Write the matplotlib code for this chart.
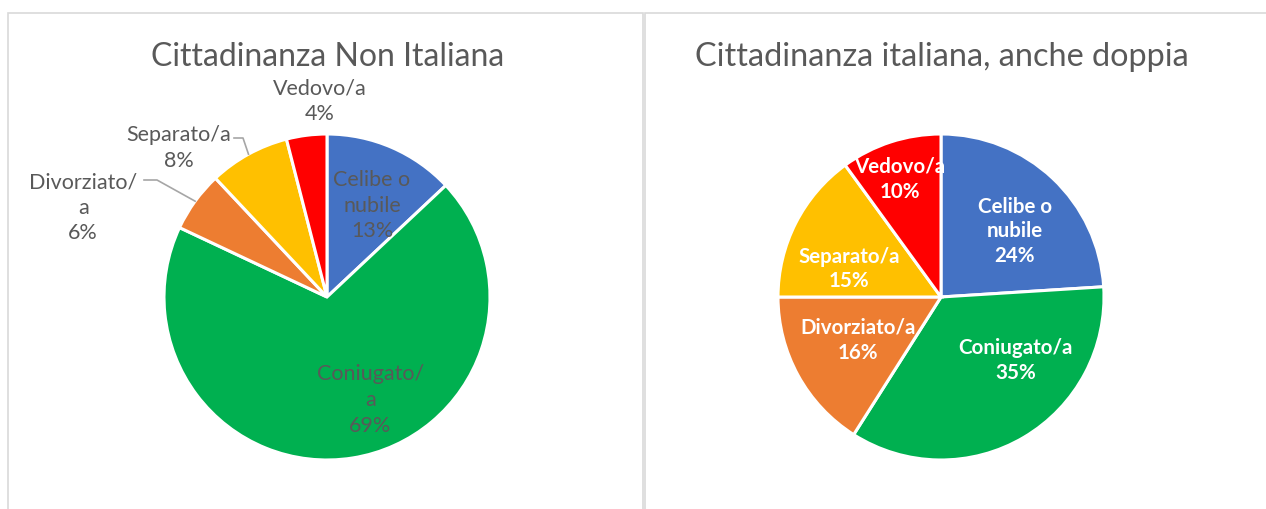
import numpy as np
import matplotlib
matplotlib.use("Agg")
import matplotlib.pyplot as plt
from matplotlib.patches import Rectangle

categories = ["Celibe o\nnubile", "Coniugato/a", "Divorziato/a", "Separato/a", "Vedovo/a"]
left_labels = ["Celibe o\nnubile", "Coniugato/\na", "Divorziato/\na", "Separato/a", "Vedovo/a"]
non_italiana = [13, 69, 6, 8, 4]
italiana = [24, 35, 16, 15, 10]
titles = ["Cittadinanza Non Italiana", "Cittadinanza italiana, anche doppia"]
colors = ["#4472C4", "#00B050", "#ED7D31", "#FFC000", "#FF0000"]

W, H = 1266, 510
plt.rcParams["font.family"] = ["Lato", "DejaVu Sans"]
fig = plt.figure(figsize=(W / 100, H / 100), dpi=100)
fig.patch.set_facecolor("white")

# chart frames (Excel style)
border = "#D9D9D9"
fig.add_artist(Rectangle((8 / W, -0.1), (643 - 8) / W, 1.1 - 14 / H, transform=fig.transFigure,
                         fill=False, edgecolor=border, lw=1.2))
fig.add_artist(Rectangle((645 / W, -0.1), 0.5, 1.1 - 14 / H, transform=fig.transFigure,
                         fill=False, edgecolor=border, lw=1.2))

radius_px = 163
half = 300


def pie_axes(cx, cy):
    return fig.add_axes([(cx - half) / W, 1 - (cy + half) / H, 2 * half / W, 2 * half / H])


def polar(ang, dist):
    a = np.deg2rad(ang)
    return dist * np.cos(a), dist * np.sin(a)


lim = half / radius_px
text_gray = "#595959"

# left pie
cx1, cy1 = 327, 298
ax1 = pie_axes(cx1, cy1)
wedges, _ = ax1.pie(non_italiana, colors=colors, startangle=90, counterclock=False,
                    wedgeprops=dict(edgecolor="white", linewidth=2.2))
ax1.set_xlim(-lim, lim)
ax1.set_ylim(-lim, lim)
ax1.set_aspect("equal")
ax1.axis("off")
# label placement (angle deg, distance in radii)
left_pos = [(64, 0.63), (-67, 0.68), (159.7, 1.595), (134.7, 1.295), (92, 1.21)]
for i, (lab, v) in enumerate(zip(left_labels, non_italiana)):
    x, y = polar(*left_pos[i])
    ax1.text(x, y, f"{lab}\n{v}%", ha="center", va="center", fontsize=15.5,
             color=text_gray, linespacing=1.35)
# leader lines for Divorziato and Separato: (elbow px, end px)
for i, (elbow, end) in [(2, ((157, 181), 144)), (3, ((243, 139), 234))]:
    w = wedges[i]
    mid = (w.theta1 + w.theta2) / 2
    px, py = polar(mid, 1.0)
    ex_d = (elbow[0] - cx1) / radius_px
    ey_d = (cy1 - elbow[1]) / radius_px
    end_d = (end - cx1) / radius_px
    ax1.plot([px, ex_d, end_d], [py, ey_d, ey_d], color="#A6A6A6", lw=1.2)
fig.text(328 / W, 1 - 57 / H, titles[0], ha="center", va="center", fontsize=23, color=text_gray)

# right pie
ax2 = pie_axes(941, 298)
ax2.pie(italiana, colors=colors, startangle=90, counterclock=False,
        wedgeprops=dict(edgecolor="white", linewidth=2.2))
ax2.set_xlim(-lim, lim)
ax2.set_ylim(-lim, lim)
ax2.set_aspect("equal")
ax2.axis("off")
right_pos = [(42, 0.61), (-40, 0.60), (207, 0.57), (162.5, 0.59), (109, 0.77)]
for i, (lab, v) in enumerate(zip(categories, italiana)):
    x, y = polar(*right_pos[i])
    ax2.text(x, y, f"{lab}\n{v}%", ha="center", va="center", fontsize=14.8,
             color="white", fontweight="bold", linespacing=1.3)
fig.text(942 / W, 1 - 57 / H, titles[1], ha="center", va="center", fontsize=23.3, color=text_gray)

fig.savefig("out.png", dpi=100, facecolor="white")
